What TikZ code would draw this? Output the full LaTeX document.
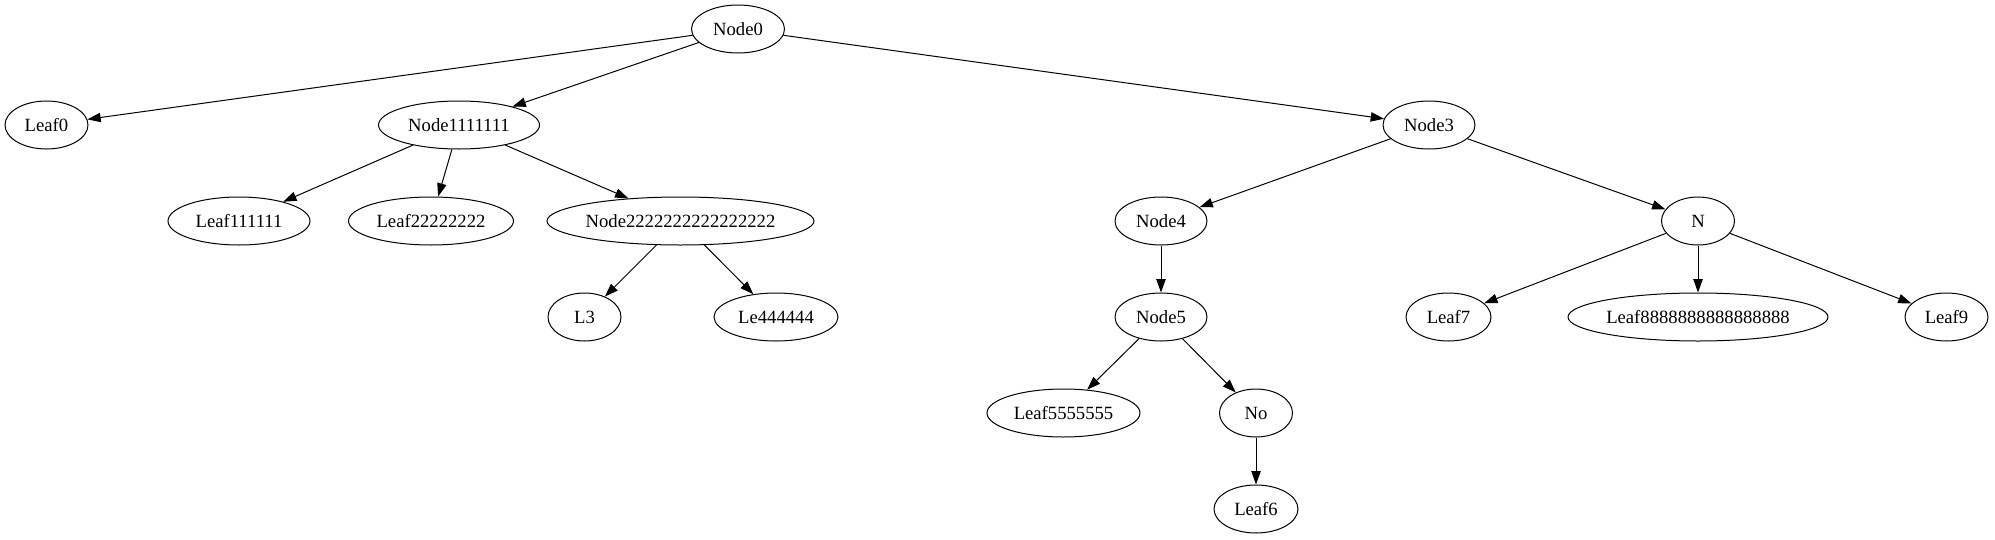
\documentclass[tikz,border=0pt]{standalone}
\usepackage{fontspec}
\setmainfont{Liberation Serif}
\usetikzlibrary{shapes.geometric,arrows.meta}
\tikzset{
  gv/.style={draw=black, line width=0.75pt, ellipse, inner sep=0pt, minimum height=36pt, font=\fontsize{14pt}{16pt}\selectfont},
  gvedge/.style={draw=black, line width=0.75pt, -{Triangle[length=10pt,width=7pt]}},
}
\newcommand{\gvt}[1]{\makebox[0pt][c]{#1}}
\begin{document}
\begin{tikzpicture}[x=0.75pt,y=-0.75pt]
\useasboundingbox[fill=white] (0,0) rectangle (1995,539);
\node[gv, minimum width=93*0.75pt] (n0) at (738,29) {\gvt{Node0}};
\node[gv, minimum width=83*0.75pt] (l0) at (46.5,125) {\gvt{Leaf0}};
\node[gv, minimum width=161*0.75pt] (n1) at (459,125) {\gvt{Node1111111}};
\node[gv, minimum width=92*0.75pt] (n3) at (1429,125) {\gvt{Node3}};
\node[gv, minimum width=142*0.75pt] (l1) at (239,221) {\gvt{Leaf111111}};
\node[gv, minimum width=165*0.75pt] (l2) at (431,221) {\gvt{Leaf22222222}};
\node[gv, minimum width=267*0.75pt] (n2) at (680.5,221) {\gvt{Node2222222222222222}};
\node[gv, minimum width=92*0.75pt] (n4) at (1161,221) {\gvt{Node4}};
\node[gv, minimum width=73*0.75pt] (nn) at (1698,221) {\gvt{N}};
\node[gv, minimum width=73*0.75pt] (l3) at (584.5,317) {\gvt{L3}};
\node[gv, minimum width=124*0.75pt] (l4) at (776,317) {\gvt{Le444444}};
\node[gv, minimum width=92*0.75pt] (n5) at (1161,317) {\gvt{Node5}};
\node[gv, minimum width=85*0.75pt] (l7) at (1448.5,317) {\gvt{Leaf7}};
\node[gv, minimum width=260*0.75pt] (l8) at (1698,317) {\gvt{Leaf8888888888888888}};
\node[gv, minimum width=83*0.75pt] (l9) at (1946.5,317) {\gvt{Leaf9}};
\node[gv, minimum width=153*0.75pt] (l5) at (1063.5,413) {\gvt{Leaf5555555}};
\node[gv, minimum width=73*0.75pt] (no) at (1256,413) {\gvt{No}};
\node[gv, minimum width=84*0.75pt] (l6) at (1256,509) {\gvt{Leaf6}};
\draw[gvedge] (n0) -- (l0);
\draw[gvedge] (n0) -- (n1);
\draw[gvedge] (n0) -- (n3);
\draw[gvedge] (n1) -- (l1);
\draw[gvedge] (n1) -- (l2);
\draw[gvedge] (n1) -- (n2);
\draw[gvedge] (n2) -- (l3);
\draw[gvedge] (n2) -- (l4);
\draw[gvedge] (n3) -- (n4);
\draw[gvedge] (n3) -- (nn);
\draw[gvedge] (n4) -- (n5);
\draw[gvedge] (n5) -- (l5);
\draw[gvedge] (n5) -- (no);
\draw[gvedge] (no) -- (l6);
\draw[gvedge] (nn) -- (l7);
\draw[gvedge] (nn) -- (l8);
\draw[gvedge] (nn) -- (l9);
\end{tikzpicture}
\end{document}
